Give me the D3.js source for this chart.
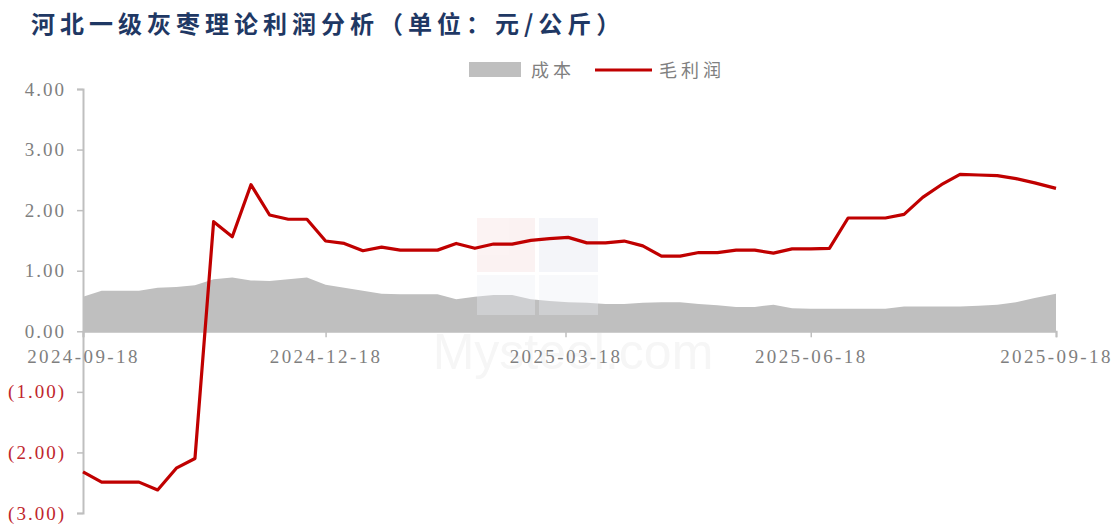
<!DOCTYPE html>
<html>
<head>
<meta charset="utf-8">
<script src="https://cdn.jsdelivr.net/npm/d3@7"></script>
<style>
  html, body { margin: 0; padding: 0; background: #fff; }
  svg { display: block; }
</style>
</head>
<body>
<svg id="chart" width="1119" height="528"></svg>
<script>
const titleText = "河北一级灰枣理论利润分析（单位：元/公斤）";
const seriesNames = ["成本", "毛利润"];
const dates = [
  "2024-09-18","2024-09-25","2024-10-02","2024-10-09","2024-10-16","2024-10-23","2024-10-30",
  "2024-11-06","2024-11-13","2024-11-20","2024-11-27","2024-12-04","2024-12-11","2024-12-18",
  "2024-12-25","2025-01-01","2025-01-08","2025-01-15","2025-01-22","2025-01-29","2025-02-05",
  "2025-02-12","2025-02-19","2025-02-26","2025-03-05","2025-03-12","2025-03-19","2025-03-26",
  "2025-04-02","2025-04-09","2025-04-16","2025-04-23","2025-04-30","2025-05-07","2025-05-14",
  "2025-05-21","2025-05-28","2025-06-04","2025-06-11","2025-06-18","2025-06-25","2025-07-02",
  "2025-07-09","2025-07-16","2025-07-23","2025-07-30","2025-08-06","2025-08-13","2025-08-20",
  "2025-08-27","2025-09-03","2025-09-10","2025-09-18"
];
const cost = [
  0.57,0.67,0.67,0.67,0.72,0.73,0.76,0.86,0.89,0.84,0.83,0.86,0.89,0.77,
  0.72,0.67,0.62,0.61,0.61,0.61,0.53,0.57,0.60,0.60,0.53,0.50,0.48,0.47,
  0.45,0.45,0.47,0.48,0.48,0.45,0.43,0.40,0.40,0.44,0.38,0.37,0.37,0.37,
  0.37,0.37,0.41,0.41,0.41,0.41,0.42,0.44,0.48,0.55,0.62
];
const profit = [
  -2.32,-2.49,-2.49,-2.49,-2.62,-2.26,-2.10,1.81,1.56,2.42,1.92,1.85,1.85,1.49,
  1.45,1.33,1.39,1.34,1.34,1.34,1.45,1.37,1.44,1.44,1.50,1.53,1.55,1.46,
  1.46,1.49,1.41,1.24,1.24,1.30,1.30,1.34,1.34,1.29,1.36,1.36,1.37,1.87,
  1.87,1.87,1.93,2.21,2.42,2.59,2.58,2.57,2.52,2.45,2.36
];
const xTickLabels = ["2024-09-18","2024-12-18","2025-03-18","2025-06-18","2025-09-18"];
const yTickValues = [-3,-2,-1,0,1,2,3,4];

const parse = d3.timeParse("%Y-%m-%d");
const data = dates.map((d, i) => ({date: parse(d), cost: cost[i], profit: profit[i]}));

const svg = d3.select("#chart");
const x = d3.scaleTime()
  .domain([parse(xTickLabels[0]), parse(xTickLabels[xTickLabels.length - 1])])
  .range([83, 1056]);
const y = d3.scaleLinear().domain([-3, 4]).range([513, 89]);

// title
svg.append("text")
  .attr("x", 31).attr("y", 33)
  .attr("font-family", "'Noto Sans CJK SC', sans-serif")
  .attr("font-weight", "bold")
  .attr("font-size", 24)
  .attr("letter-spacing", 5)
  .attr("fill", "#1f3864")
  .text(titleText);

// legend
const lg = svg.append("g");
lg.append("rect").attr("x", 469).attr("y", 62).attr("width", 52).attr("height", 15).attr("fill", "#bfbfbf");
lg.append("text").attr("x", 531).attr("y", 77)
  .attr("font-family", "'Noto Sans CJK SC', sans-serif").attr("font-size", 18)
  .attr("fill", "#808080").attr("letter-spacing", 4).text(seriesNames[0]);
lg.append("line").attr("x1", 595).attr("x2", 652).attr("y1", 70).attr("y2", 70)
  .attr("stroke", "#c00000").attr("stroke-width", 3);
lg.append("text").attr("x", 659).attr("y", 77)
  .attr("font-family", "'Noto Sans CJK SC', sans-serif").attr("font-size", 18)
  .attr("fill", "#808080").attr("letter-spacing", 4).text(seriesNames[1]);

// area (cost)
const area = d3.area()
  .x(d => x(d.date))
  .y0(y(0))
  .y1(d => y(d.cost));
svg.append("path").datum(data).attr("d", area).attr("fill", "#bfbfbf");

// faint watermark logo (semi-transparent, over the area) + text
const wm = svg.append("g").attr("opacity", 0.35);
wm.append("rect").attr("x", 477).attr("y", 218).attr("width", 58).attr("height", 54).attr("fill", "#f6dcdc");
wm.append("rect").attr("x", 539).attr("y", 218).attr("width", 59).attr("height", 54).attr("fill", "#e0e3ee");
wm.append("rect").attr("x", 477).attr("y", 275).attr("width", 58).attr("height", 40).attr("fill", "#eceef4");
wm.append("rect").attr("x", 539).attr("y", 275).attr("width", 59).attr("height", 40).attr("fill", "#eceef4");
svg.append("text")
  .attr("x", 573).attr("y", 369)
  .attr("text-anchor", "middle")
  .attr("font-family", "Arial, 'Liberation Sans', sans-serif")
  .attr("font-size", 50)
  .attr("fill", "#f6f6f6")
  .text("Mysteel.com");

// y axis
const yAxis = d3.axisLeft(y)
  .tickValues(yTickValues)
  .tickSize(6)
  .tickPadding(11)
  .tickFormat(v => v < 0 ? "(" + d3.format(".2f")(-v) + ")" : d3.format(".2f")(v));
const gy = svg.append("g").attr("transform", "translate(83,0)").call(yAxis);
gy.select(".domain").attr("stroke", "#bfbfbf").attr("stroke-width", 2);
gy.selectAll(".tick line").attr("stroke", "#bfbfbf").attr("stroke-width", 1.5);
gy.selectAll(".tick text")
  .attr("font-family", "'Liberation Serif', 'Times New Roman', serif")
  .attr("font-size", 19)
  .attr("letter-spacing", 2)
  .attr("fill", d => d < 0 ? "#c0262d" : "#7f7f7f");

// x axis
const xAxis = d3.axisBottom(x)
  .tickValues(xTickLabels.map(parse))
  .tickSize(6)
  .tickPadding(12)
  .tickFormat(d3.timeFormat("%Y-%m-%d"));
const gx = svg.append("g").attr("transform", `translate(0,${y(0)})`).call(xAxis);
gx.select(".domain").attr("stroke", "#bfbfbf").attr("stroke-width", 2);
gx.selectAll(".tick line").attr("stroke", "#bfbfbf").attr("stroke-width", 1.5);
gx.selectAll(".tick text")
  .attr("font-family", "'Liberation Serif', 'Times New Roman', serif")
  .attr("font-size", 19)
  .attr("letter-spacing", 2.4)
  .attr("fill", "#7f7f7f");

// profit line
const line = d3.line().x(d => x(d.date)).y(d => y(d.profit));
svg.append("path").datum(data).attr("d", line)
  .attr("fill", "none").attr("stroke", "#c00000").attr("stroke-width", 3.2)
  .attr("stroke-linejoin", "round");
</script>
</body>
</html>
